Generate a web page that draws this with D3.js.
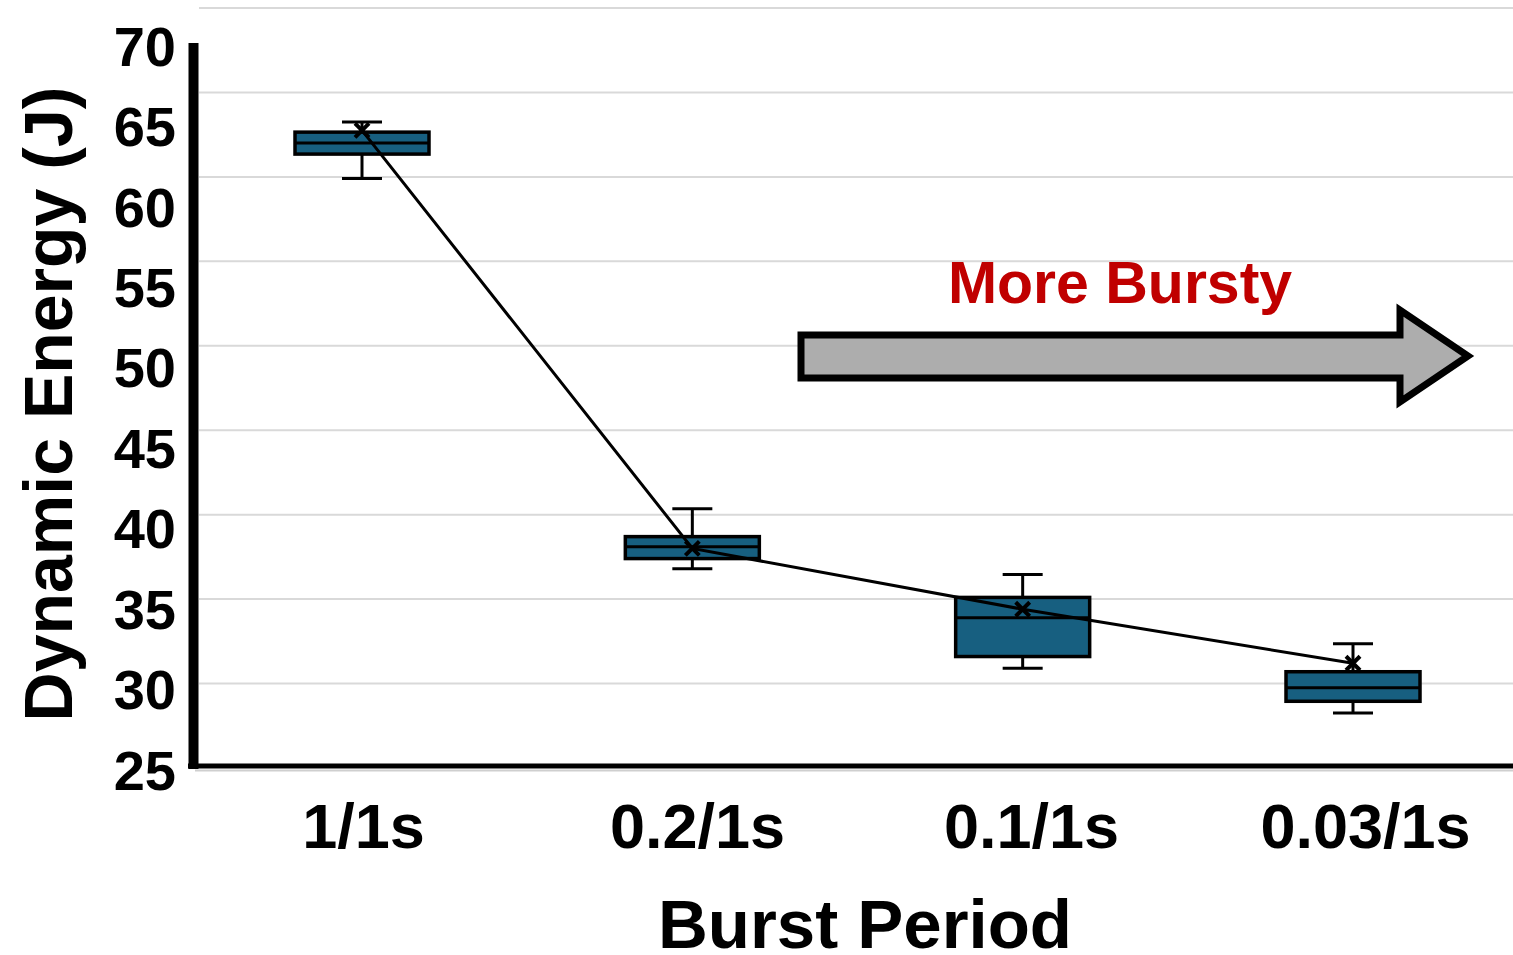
<!DOCTYPE html>
<html>
<head>
<meta charset="utf-8">
<script src="https://cdn.jsdelivr.net/npm/d3@7"></script>
<style>
  html, body { margin: 0; padding: 0; background: #fff; }
  svg { display: block; font-family: "Liberation Sans", Arial, sans-serif; }
</style>
</head>
<body>
<svg id="chart" width="1513" height="955"></svg>
<script>
// Burst period categories and dynamic energy distribution (J)
const categories = ["1/1s", "0.2/1s", "0.1/1s", "0.03/1s"];
const whiskerLow  = [59.9, 36.8, 30.9, 28.25];
const q1          = [61.35, 37.4, 31.6, 28.95];
const median      = [62.0, 38.1, 33.9, 29.75];
const q3          = [62.65, 38.7, 35.1, 30.7];
const whiskerHigh = [63.25, 40.35, 36.45, 32.35];
const mean        = [62.75, 38.0, 34.4, 31.2];
const yTicks      = [25, 30, 35, 40, 45, 50, 55, 60, 65, 70];

const svg = d3.select("#chart");

// plotting area scales
const x = d3.scalePoint().domain(categories).range([362, 1353]);
const y = d3.scaleLinear().domain([25, 70]).range([768, 8]);
// the labelled axes sit on their own scales
const yAxisScale = d3.scaleLinear().domain([25, 70]).range([769, 45]);
const xAxisScale = d3.scalePoint().domain(categories).range([363, 1365]);

const boxW = 134, capW = 40;

// horizontal gridlines
svg.append("g").selectAll("line")
  .data(yTicks.filter(t => t > 25))
  .join("line")
  .attr("x1", 199).attr("x2", 1513)
  .attr("y1", d => y(d)).attr("y2", d => y(d))
  .attr("stroke", "#d9d9d9").attr("stroke-width", 2);

// thin baseline shadow under the x axis
svg.append("line")
  .attr("x1", 195).attr("x2", 1513)
  .attr("y1", y(25) + 2.5).attr("y2", y(25) + 2.5)
  .attr("stroke", "#cfcfcf").attr("stroke-width", 2);

// y axis with labels
const yAxis = d3.axisLeft(yAxisScale).tickValues(yTicks).tickSize(0).tickPadding(0);
const gy = svg.append("g").attr("transform", "translate(176,0)").call(yAxis);
gy.select(".domain").remove();
gy.selectAll("text")
  .attr("font-size", 56).attr("font-weight", "bold")
  .attr("fill", "#000").attr("font-family", "Liberation Sans, Arial, sans-serif")
  .attr("dy", "0.36em");

// y axis spine
svg.append("line")
  .attr("x1", 193.5).attr("x2", 193.5)
  .attr("y1", 43).attr("y2", 769)
  .attr("stroke", "#000").attr("stroke-width", 10);

// x axis line
svg.append("line")
  .attr("x1", 188).attr("x2", 1513)
  .attr("y1", y(25) - 2).attr("y2", y(25) - 2)
  .attr("stroke", "#000").attr("stroke-width", 5);

// x axis labels
const xAxis = d3.axisBottom(xAxisScale).tickSize(0).tickPadding(0);
const gx = svg.append("g").attr("transform", "translate(0,848)").call(xAxis);
gx.select(".domain").remove();
gx.selectAll("text")
  .attr("font-size", 63).attr("font-weight", "bold")
  .attr("fill", "#000").attr("font-family", "Liberation Sans, Arial, sans-serif")
  .attr("dy", 0);

// boxes
const data = categories.map((c, i) => ({
  c, lo: whiskerLow[i], q1: q1[i], med: median[i], q3: q3[i], hi: whiskerHigh[i], mean: mean[i]
}));

const g = svg.append("g");
const box = g.selectAll("g.box").data(data).join("g").attr("class", "box");

// whiskers
box.append("line")
  .attr("x1", d => x(d.c)).attr("x2", d => x(d.c))
  .attr("y1", d => y(d.hi)).attr("y2", d => y(d.q3))
  .attr("stroke", "#000").attr("stroke-width", 3);
box.append("line")
  .attr("x1", d => x(d.c)).attr("x2", d => x(d.c))
  .attr("y1", d => y(d.q1)).attr("y2", d => y(d.lo))
  .attr("stroke", "#000").attr("stroke-width", 3);
box.append("line")
  .attr("x1", d => x(d.c) - capW / 2).attr("x2", d => x(d.c) + capW / 2)
  .attr("y1", d => y(d.hi)).attr("y2", d => y(d.hi))
  .attr("stroke", "#000").attr("stroke-width", 3);
box.append("line")
  .attr("x1", d => x(d.c) - capW / 2).attr("x2", d => x(d.c) + capW / 2)
  .attr("y1", d => y(d.lo)).attr("y2", d => y(d.lo))
  .attr("stroke", "#000").attr("stroke-width", 3);

// interquartile box
box.append("rect")
  .attr("x", d => x(d.c) - boxW / 2)
  .attr("width", boxW)
  .attr("y", d => y(d.q3))
  .attr("height", d => y(d.q1) - y(d.q3))
  .attr("fill", "#175f80")
  .attr("stroke", "#000").attr("stroke-width", 3.5);

// median
box.append("line")
  .attr("x1", d => x(d.c) - boxW / 2).attr("x2", d => x(d.c) + boxW / 2)
  .attr("y1", d => y(d.med)).attr("y2", d => y(d.med))
  .attr("stroke", "#000").attr("stroke-width", 3);

// mean connecting line
const line = d3.line().x(d => x(d.c)).y(d => y(d.mean));
svg.append("path")
  .datum(data)
  .attr("d", line)
  .attr("fill", "none")
  .attr("stroke", "#000").attr("stroke-width", 3);

// mean markers
const m = 7;
const marks = svg.append("g").selectAll("g").data(data).join("g")
  .attr("transform", d => `translate(${x(d.c)},${y(d.mean)})`);
marks.append("path")
  .attr("d", `M${-m},${-m}L${m},${m}M${-m},${m}L${m},${-m}`)
  .attr("stroke", "#000").attr("stroke-width", 4).attr("fill", "none");

// axis titles
svg.append("text")
  .attr("x", 865).attr("y", 948)
  .attr("text-anchor", "middle")
  .attr("font-size", 69).attr("font-weight", "bold")
  .text("Burst Period");

svg.append("text")
  .attr("transform", "translate(72,404) rotate(-90)")
  .attr("text-anchor", "middle")
  .attr("font-size", 68).attr("font-weight", "bold")
  .text("Dynamic Energy (J)");

// annotation
svg.append("text")
  .attr("x", 1120).attr("y", 303)
  .attr("text-anchor", "middle")
  .attr("font-size", 59).attr("font-weight", "bold")
  .attr("fill", "#c00000")
  .text("More Bursty");

svg.append("path")
  .attr("d", "M801,335 L1400,335 L1400,310 L1468,356 L1400,402 L1400,378 L801,378 Z")
  .attr("fill", "#adadad")
  .attr("stroke", "#000").attr("stroke-width", 7)
  .attr("stroke-linejoin", "miter");
</script>
</body>
</html>
